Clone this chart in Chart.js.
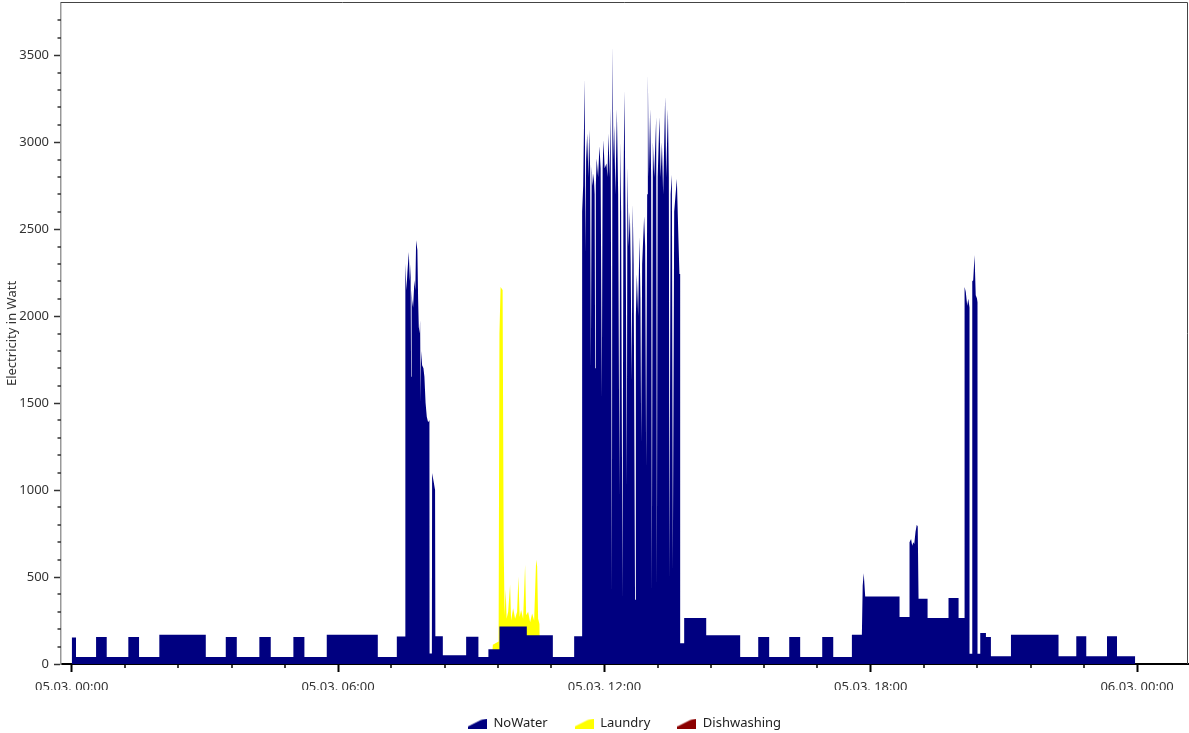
<!DOCTYPE html>
<html>
<head>
<meta charset="utf-8">
<title>Electricity in Watt</title>
<script src="https://cdn.jsdelivr.net/npm/chart.js@4.4.1/dist/chart.umd.min.js"></script>
<style>
  html, body { margin: 0; padding: 0; background: #fff; }
  #wrap { width: 1189px; height: 733px; }
</style>
</head>
<body>
<div id="wrap"><canvas id="chart" width="1189" height="733"></canvas></div>
<script>
// Time is in minutes since 05.03. 00:00
const xMajorTicks = [0, 360, 720, 1080, 1440];
const xTickLabels = ['05.03. 00:00', '05.03. 06:00', '05.03. 12:00', '05.03. 18:00', '06.03. 00:00'];
const xMinorTicks = [72, 144, 216, 288, 432, 504, 576, 648, 792, 864, 936, 1008, 1152, 1224, 1296, 1368];
const yMajorTicks = [0, 500, 1000, 1500, 2000, 2500, 3000, 3500];
const yMinorTicks = [100, 200, 300, 400, 600, 700, 800, 900, 1100, 1200, 1300, 1400, 1600, 1700, 1800, 1900,
  2100, 2200, 2300, 2400, 2600, 2700, 2800, 2900, 3100, 3200, 3300, 3400, 3600, 3700];

const seriesNames = ['NoWater', 'Laundry', 'Dishwashing'];
const seriesColors = ['#000080', '#FFFF00', '#8B0000'];

// NoWater: minutes / watts (a repeated minute is a step)
const noWaterMinutes = [
  0, 5.8, 5.8, 32.9, 32.9, 47.3, 47.3, 76.5, 76.5, 91.0, 91.0, 118.4, 118.4, 181.2, 181.2, 208.2,
  208.2, 223.1, 223.1, 253.6, 253.6, 269.0, 269.0, 299.6, 299.6, 314.5, 314.5, 344.7, 344.7, 413.7,
  413.7, 439.4, 439.4, 450.6,
  // morning peak
  450.6, 451.3, 452.4, 453.7, 455.6, 457.0, 458.0, 458.7, 459.4, 460.1, 461.4, 463.2, 464.4, 465.5,
  467.2, 468.2, 469.1, 470.2, 470.9, 471.6, 472.2, 473.6, 475.4, 476.7, 478.3, 479.9, 481.7, 483.5,
  483.7, 486.8, 487.1, 489.1, 491.1, 491.5, 501.6, 501.6, 533.1, 533.1, 549.7, 549.7, 563.2, 563.2,
  578.1, 578.1, 615.1, 615.1, 650.3, 650.3, 679.1, 679.1, 689.9,
  // midday
  689.9, 691.3, 693.3, 694.4, 695.3, 696.7, 698.4, 699.4, 700.7, 701.7, 702.8, 704.1, 705.5, 706.8,
  707.5, 708.4, 709.5, 711.5, 713.3, 714.9, 716.5, 717.6, 718.7, 720.3, 722.8, 724.1, 725.5, 727.1,
  728.4, 730.1, 730.9, 732.2, 733.2, 734.9, 736.8, 738.6, 740.3, 741.3, 742.6, 744.4, 745.7, 747.1,
  748.7, 750.3, 751.1, 752.7, 754.4, 755.5, 756.8, 758.2, 759.5, 761.4, 762.5, 763.8, 765.6, 767.4,
  768.7, 769.7, 771.0, 773.7, 775.1, 776.4, 777.8, 778.7, 780.1, 781.8, 783.2, 784.1, 785.5, 787.3,
  790.0, 790.9, 792.0, 794.4, 796.0, 797.7, 799.4, 802.1, 803.5, 805.8, 807.1, 807.9, 809.5, 811.2,
  812.5, 814.3, 817.9, 819.7, 821.4, 822.4,
  // afternoon and evening
  822.4, 827.8, 827.8, 857.6, 857.6, 903.5, 903.5, 927.9, 927.9, 942.7, 942.7, 969.8, 969.8,
  984.6, 984.6, 1014.4, 1014.4, 1029.3, 1029.3, 1054.5, 1054.5, 1068.0, 1069.1, 1070.5, 1072.5, 1118.9,
  1118.9, 1132.4, 1132.4, 1134.5, 1136.0, 1137.5, 1138.8, 1140.5, 1142.2, 1143.5, 1144.6, 1156.8,
  1156.8, 1185.1, 1185.1, 1198.7, 1198.7, 1206.8, 1206.8, 1208.4, 1210.4, 1211.8, 1213.5, 1213.5,
  1217.2, 1217.2, 1218.5, 1220.3, 1221.9, 1223.5, 1224.3, 1224.3, 1228.0, 1228.0, 1235.7, 1235.7,
  1242.4, 1242.4, 1269.5, 1269.5, 1333.8, 1333.8, 1357.8, 1357.8, 1371.3, 1371.3, 1399.3, 1399.3,
  1412.8, 1412.8, 1437.5
];
const noWaterWatts = [
  153, 153, 40, 40, 155, 155, 40, 40, 155, 155, 40, 40, 168, 168, 40, 40,
  155, 155, 40, 40, 155, 155, 40, 40, 155, 155, 40, 40, 168, 168,
  40, 40, 158, 158,
  // morning peak
  2200, 2303, 2150, 2250, 2369, 2200, 2300, 1651, 2150, 2091, 2050, 2206, 2150, 2436,
  2380, 2100, 1938, 1900, 1976, 1500, 1800, 1717, 1700, 1651, 1500, 1421, 1390, 1402,
  60, 60, 1098, 1050, 1000, 160, 160, 50, 50, 157, 157, 40, 40, 85,
  85, 215, 215, 165, 165, 40, 40, 160, 160,
  // midday
  2600, 2750, 3365, 2361, 2900, 3050, 2800, 3073, 2850, 1696, 2860, 2750, 2820, 2700,
  1700, 2750, 2906, 2800, 2977, 2850, 1530, 2850, 3013, 2850, 2878, 2800, 3050, 2800,
  3200, 416, 3559, 2900, 3096, 2700, 3191, 2700, 960, 3001, 2600, 370, 2700, 3297,
  2500, 1032, 2860, 2400, 2600, 2300, 1627, 2645, 2300, 370, 2000, 2242, 2000, 2456,
  2100, 1270, 2300, 2574, 2400, 1128, 2700, 3393, 2800, 3191, 2800, 416, 3001, 2800,
  3144, 460, 2800, 3144, 2800, 3000, 2700, 3263, 2800, 3191, 2800, 480, 2700, 2812,
  535, 2600, 2790, 2500, 2242, 2242,
  // afternoon and evening
  120, 120, 265, 265, 165, 165, 40, 40, 155, 155, 40, 40, 155,
  155, 40, 40, 155, 155, 40, 40, 168, 168, 450, 522, 388, 388,
  270, 270, 700, 718, 680, 700, 690, 760, 800, 790, 375, 375,
  264, 264, 379, 379, 264, 264, 2168, 2140, 2060, 2100, 2050, 59,
  59, 2200, 2206, 2351, 2120, 2103, 2080, 59, 59, 178, 178, 155,
  155, 44, 44, 168, 168, 44, 44, 159, 159, 44, 44, 159,
  159, 44, 44
];

// Laundry: minutes / watts
const laundryMinutes = [
  567.5, 569.2, 577.0, 578.1, 579.7, 582.4, 583.8, 585.1, 586.5, 587.8, 589.9, 592.5, 593.9, 596.6,
  599.3, 602.0, 603.8, 605.4, 607.4, 610.1, 612.8, 614.2, 616.9, 619.6, 622.3, 625.0, 627.7, 629.1,
  630.4, 632.2, 632.9
];
const laundryWatts = [
  0, 110, 130, 1900, 2168, 2150, 700, 280, 430, 260, 300, 455, 250, 320,
  260, 300, 503, 270, 310, 260, 570, 280, 300, 240, 290, 250, 600, 560,
  260, 230, 0
];

// Dishwashing: no consumption in this day
const dishwashingMinutes = [];
const dishwashingWatts = [];

Chart.defaults.font.family = "'Noto Sans', 'DejaVu Sans', sans-serif";
Chart.defaults.font.size = 13;
Chart.defaults.color = '#333';

function toPoints(xs, ys) {
  return xs.map((x, i) => ({ x: x, y: ys[i] }));
}

// legend marker: small filled area wedge
function makeWedge(color) {
  const c = document.createElement('canvas');
  c.width = 19;
  c.height = 10;
  const g = c.getContext('2d');
  g.fillStyle = color;
  g.beginPath();
  g.moveTo(0, 10);
  g.lineTo(0, 8);
  g.lineTo(13, 1.5);
  g.lineTo(19, 0);
  g.lineTo(19, 10);
  g.closePath();
  g.fill();
  return c;
}
const legendWedges = seriesColors.map(makeWedge);

// minor ticks and the top/right frame
const axisExtras = {
  id: 'axisExtras',
  afterDraw(chart) {
    const { ctx, chartArea: a, scales: { x, y } } = chart;
    ctx.save();
    ctx.strokeStyle = '#000';
    ctx.lineWidth = 1.5;
    ctx.beginPath();
    xMinorTicks.forEach(v => {
      const px = Math.round(x.getPixelForValue(v));
      ctx.moveTo(px, a.bottom);
      ctx.lineTo(px, a.bottom + 4);
    });
    ctx.stroke();
    ctx.strokeStyle = '#333';
    ctx.beginPath();
    yMinorTicks.forEach(v => {
      const py = Math.round(y.getPixelForValue(v));
      ctx.moveTo(a.left - 3.5, py);
      ctx.lineTo(a.left, py);
    });
    ctx.stroke();
    ctx.strokeStyle = '#444';
    ctx.lineWidth = 1;
    ctx.beginPath();
    ctx.moveTo(a.left, a.top - 0.5);
    ctx.lineTo(a.right - 0.5, a.top - 0.5);
    ctx.lineTo(a.right - 0.5, a.bottom);
    ctx.stroke();
    ctx.restore();
  }
};

new Chart(document.getElementById('chart'), {
  type: 'line',
  data: {
    datasets: [
      { label: seriesNames[0], data: toPoints(noWaterMinutes, noWaterWatts), order: 0,
        backgroundColor: seriesColors[0] },
      { label: seriesNames[1], data: toPoints(laundryMinutes, laundryWatts), order: 1,
        backgroundColor: seriesColors[1] },
      { label: seriesNames[2], data: toPoints(dishwashingMinutes, dishwashingWatts), order: 2,
        backgroundColor: seriesColors[2] }
    ]
  },
  options: {
    responsive: false,
    animation: false,
    events: [],
    layout: { padding: { top: 3, right: 1, bottom: 0, left: 0 } },
    elements: {
      // area only, no outline: thin spikes fade at the tips
      line: { fill: 'origin', borderWidth: 0, borderColor: 'rgba(0,0,0,0)', tension: 0 },
      point: { radius: 0 }
    },
    scales: {
      x: {
        type: 'linear',
        min: -14.5,
        max: 1508.8,
        afterBuildTicks: s => { s.ticks = xMajorTicks.map(v => ({ value: v })); },
        afterFit: s => { s.height = 26; s.paddingLeft = 0; s.paddingRight = 0; },
        border: { color: '#000', width: 2 },
        grid: { drawOnChartArea: false, tickLength: 8, tickWidth: 2, tickColor: '#000' },
        ticks: {
          autoSkip: false,
          maxRotation: 0,
          padding: 7,
          color: '#333',
          callback: v => xTickLabels[xMajorTicks.indexOf(v)]
        }
      },
      y: {
        min: 0,
        max: 3800,
        afterBuildTicks: s => { s.ticks = yMajorTicks.map(v => ({ value: v })); },
        afterFit: s => { s.width = 61; s.paddingTop = 0; s.paddingBottom = 0; },
        border: { color: '#999', width: 1.5 },
        grid: { drawOnChartArea: false, tickLength: 7, tickWidth: 1.5, tickColor: '#333' },
        ticks: { padding: 5, color: '#333', callback: v => String(v) },
        title: { display: true, text: 'Electricity in Watt', color: '#333', font: { size: 13 }, padding: 4 }
      }
    },
    plugins: {
      tooltip: { enabled: false },
      legend: {
        position: 'bottom',
        fullSize: false,
        maxHeight: 43,
        labels: {
          usePointStyle: true,
          pointStyleWidth: 19,
          padding: 27,
          color: '#222',
          font: { size: 13 },
          generateLabels: chart => Chart.defaults.plugins.legend.labels.generateLabels(chart)
            .map(item => Object.assign(item, { pointStyle: legendWedges[item.datasetIndex] }))
        }
      }
    }
  },
  plugins: [axisExtras]
});
</script>
</body>
</html>
